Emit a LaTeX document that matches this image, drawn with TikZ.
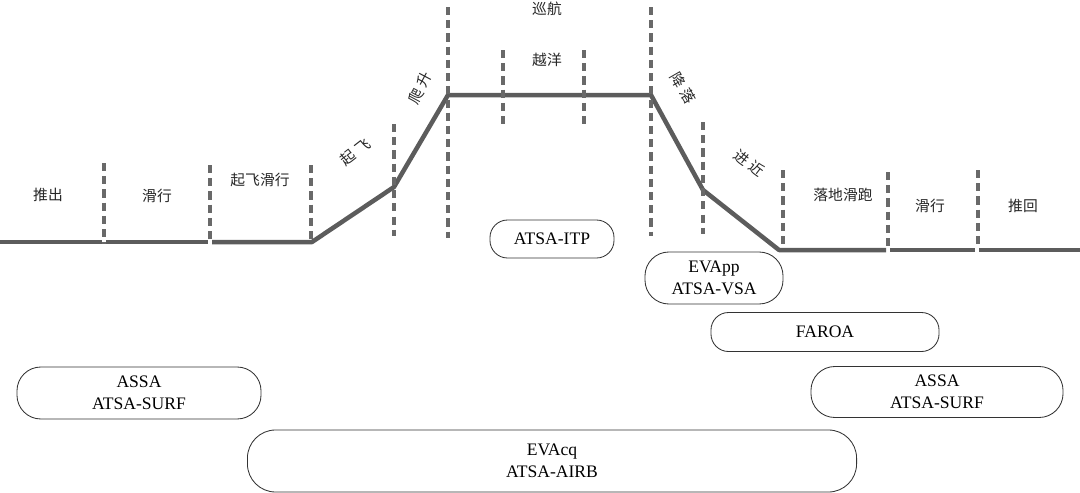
\documentclass[tikz,border=0pt]{standalone}
\usepackage{fontspec}
\setmainfont{Liberation Serif}
\newfontfamily\cjk{Noto Sans CJK SC}
\usetikzlibrary{positioning}
\definecolor{profile}{RGB}{92,92,92}
\definecolor{guide}{RGB}{105,105,105}
\tikzset{
  % ---- phase names -------------------------------------------------------
  phase/.style={font=\cjk\fontsize{10.5}{12}\selectfont, text=black!85, inner sep=1pt},
  % ---- application bars --------------------------------------------------
  app/.style={draw=black!80, line width=0.6pt, rounded corners=17pt, fill=white,
    font=\fontsize{12.5}{15.5}\selectfont, align=center, inner sep=2pt},
  apps/.style={app, rounded corners=12.5pt},
  % ---- lines -------------------------------------------------------------
  track/.style={draw=profile, line width=3.2pt, line join=round},
  sep/.style={draw=guide, line width=2.2pt, dash pattern=on 5.8pt off 3.6pt},
}
\newcommand{\gapch}{\kern3pt}

\begin{document}
\begin{tikzpicture}[x=0.025cm,y=-0.025cm]
\useasboundingbox (0,0) rectangle (1080,493);

% ============================ flight profile ==============================
\coordinate (g0) at (0,242);
\coordinate (g1) at (312,242);
\coordinate (to) at (394,187);
\coordinate (c0) at (448,95);
\coordinate (c1) at (651,95);
\coordinate (ap) at (703,190);
\coordinate (g2) at (779,250);
\coordinate (g3) at (1080,250);

\draw[track] (0,242) -- (102,242);
\draw[track] (106,242) -- (208,242);
\draw[track] (212,242) -- (g1) -- (to) -- (c0) -- (c1) -- (ap) -- (g2) -- (886,250);
\draw[track] (890,250) -- (975,250);
\draw[track] (979,250) -- (g3);

% phase separators
\foreach \x/\a/\b in {104/163/244, 210/165/244, 311/165/240, 394/124/236,
                      448/7/238, 503/50/124, 584/50/124, 651/7/236,
                      703/122/234, 783/170/246, 888/172/248, 978/170/246}
  { \draw[sep] (\x,\a) -- (\x,\b); }

% phase names
\node[phase] (pushL)  at (48,195)  {推出};
\node[phase] (taxiL)  at (157,196) {滑行};
\node[phase] (tkroll) at (260,180) {起飞滑行};
\node[phase, rotate=38] (tkoff) at (355,152) {起\gapch 飞};
\node[phase, rotate=62] (climb) at (420,88) {爬\gapch 升};
\node[phase] (cruise) at (547,9)   {巡航};
\node[phase] (ocean)  at (547,60)  {越洋};
\node[phase, rotate=-60] (desc) at (683,88) {降\gapch 落};
\node[phase, rotate=-38] (appr) at (749,163) {进\gapch 近};
\node[phase] (ldroll) at (843,195) {落地滑跑};
\node[phase] (taxiR)  at (930,206) {滑行};
\node[phase] (pushR)  at (1023,206) {推回};

% ============================ application bars ============================
\node[apps, minimum width=3.1cm, minimum height=0.95cm] (itp) at (552,239)
  {ATSA-ITP};
\node[app, minimum width=3.45cm, minimum height=1.3cm] (vsa) at (714,278)
  {EVApp\\ ATSA-VSA};
\node[apps, minimum width=5.7cm, minimum height=0.975cm] (faroa) at (825,332)
  {FAROA};
\node[app, minimum width=6.1cm, minimum height=1.3cm] (surfL) at (139,393)
  {ASSA\\ ATSA-SURF};
\node[app, minimum width=6.3cm, minimum height=1.275cm] (surfR) at (937,392)
  {ASSA\\ ATSA-SURF};
\node[app, rounded corners=20pt, minimum width=15.225cm, minimum height=1.55cm] (airb)
  at (552,461) {EVAcq\\ ATSA-AIRB};

\end{tikzpicture}
\end{document}
